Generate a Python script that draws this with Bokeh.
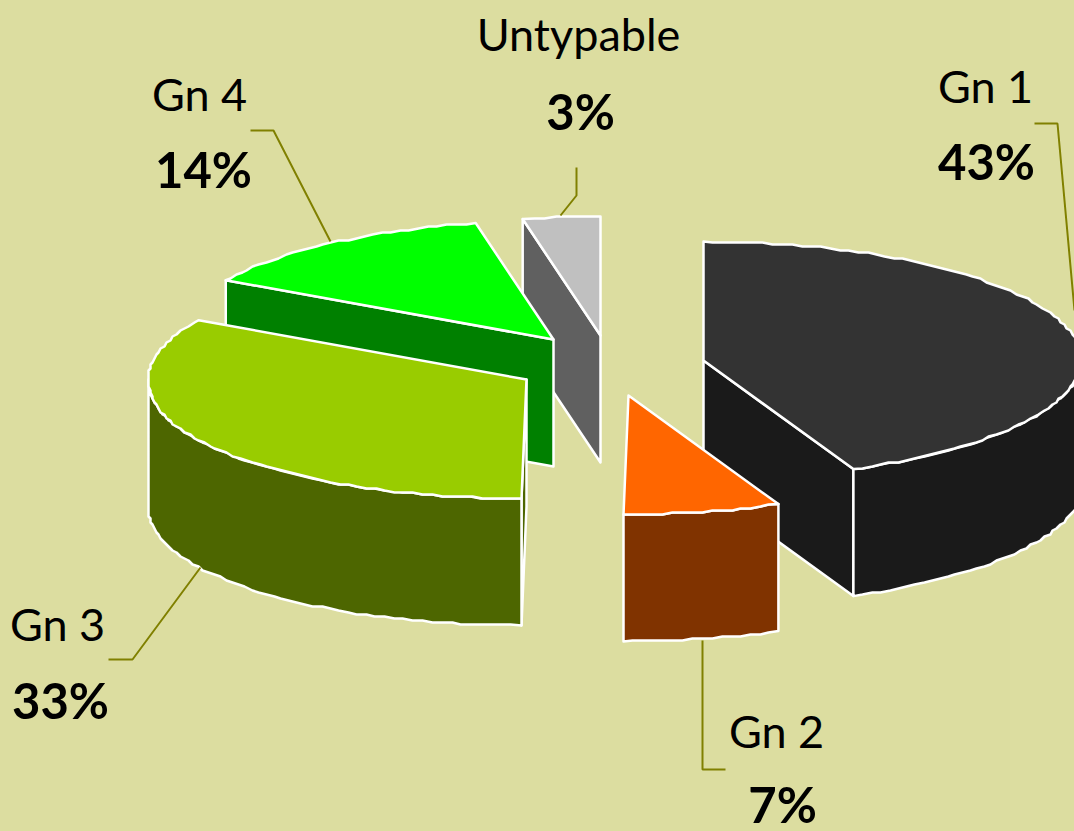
import numpy as np
from bokeh.plotting import figure
from bokeh.models import Range1d
from bokeh.core.properties import value
from bokeh.embed import file_html
from bokeh.resources import INLINE

# data
categories = ["Gn 1", "Gn 2", "Gn 3", "Gn 4", "Untypable"]
shares = [43.3, 6.7, 33.3, 13.4, 3.3]
share_labels = ["43%", "7%", "33%", "14%", "3%"]

# styling / layout (pixel space of the page)
W, H = 1074, 831
BG = "#DCDDA0"
top_colors = ["#333333", "#FF6600", "#99CC00", "#00FF00", "#C0C0C0"]
side_colors = ["#1A1A1A", "#803300", "#4D6600", "#008000", "#606060"]
apex_x = [703, 628, 526, 553, 600]
apex_y = [360, 395, 379, 339, 335]
RX, RY, DEPTH = 378, 119, 127
name_pos = [(985, 85), (776, 730), (57, 623), (199, 93), (578, 33)]
pct_pos = [(986, 160), (782, 803), (60, 699), (203, 168), (580, 110)]
leaders = [
    ([1034, 1057, 1074], [123, 123, 310]),
    ([702, 702, 725], [640, 769, 769]),
    ([108, 132, 200], [659, 659, 567]),
    ([250, 273, 330], [130, 130, 241]),
    ([576, 576, 560], [167, 195, 215]),
]

p = figure(width=W, height=H, output_backend="svg", toolbar_location=None,
           x_range=Range1d(0, W), y_range=Range1d(H, 0),
           background_fill_color=BG, border_fill_color=BG,
           min_border=0, outline_line_color=None)
p.axis.visible = False
p.grid.visible = False

edges = np.concatenate([[0], np.cumsum(shares)]) / sum(shares) * 2 * np.pi


def arc(i, a0, a1, dy=0):
    n = max(2, int(abs(a1 - a0) / np.radians(1.5)) + 1)
    t = np.linspace(a0, a1, n)
    x = apex_x[i] + RX * np.sin(t) + 5 * np.minimum(np.cos(t), 0)
    y = apex_y[i] - RY * np.cos(t) + dy
    # the source image is a coarse raster of the curve: keep its small waves
    inner_x, inner_y = np.round(x / 2) * 2, np.round(y / 2) * 2
    inner_x[0], inner_y[0], inner_x[-1], inner_y[-1] = x[0], y[0], x[-1], y[-1]
    return list(inner_x), list(inner_y)


def face(xs, ys, color):
    p.patch(xs, ys, fill_color=color, line_color="white", line_width=2.5, line_join="round")


def corner(i, a, dy=0):
    x, y = arc(i, a, a + 1e-3, dy)
    return x[0], y[0]


def cut(i, a, color):
    cx, cy = corner(i, a)
    ax, ay = apex_x[i], apex_y[i]
    face([ax, cx, cx, ax], [ay, cy, cy + DEPTH, ay + DEPTH], color)


def wall(i, a0, a1, color):
    x1, y1 = arc(i, a0, a1)
    x2, y2 = arc(i, a1, a0, DEPTH)
    face(x1 + x2, y1 + y2, color)


def top(i):
    x, y = arc(i, edges[i], edges[i + 1])
    face([apex_x[i]] + x, [apex_y[i]] + y, top_colors[i])


# back to front: Untypable, Gn 4, Gn 1, Gn 3, Gn 2
cut(4, edges[4], side_colors[4])
top(4)

cut(3, edges[3], side_colors[3])
top(3)

cut(0, edges[1], side_colors[0])
wall(0, np.pi / 2, edges[1], side_colors[0])
top(0)

cut(2, edges[2], side_colors[2])
wall(2, edges[2], 1.5 * np.pi, side_colors[2])
top(2)

wall(1, edges[1], edges[2], side_colors[1])
top(1)

for lx, ly in leaders:
    p.line(lx, ly, line_color="#808000", line_width=2)

for name, pct, np_, pp in zip(categories, share_labels, name_pos, pct_pos):
    p.text([np_[0]], [np_[1]], text=[name], text_font=value("Lato"),
           text_font_size="45px", text_align="center", text_baseline="middle", text_color="black")
    p.text([pp[0]], [pp[1]], text=[pct], text_font=value("Lato"),
           text_font_style="bold", text_font_size="49px", text_align="center",
           text_baseline="middle", text_color="black")

html = file_html(p, INLINE)
html = html.replace("</head>", f"<style>html,body{{margin:0;padding:0;background:{BG};overflow:hidden}}</style></head>", 1)
open("out.html", "w").write(html)
